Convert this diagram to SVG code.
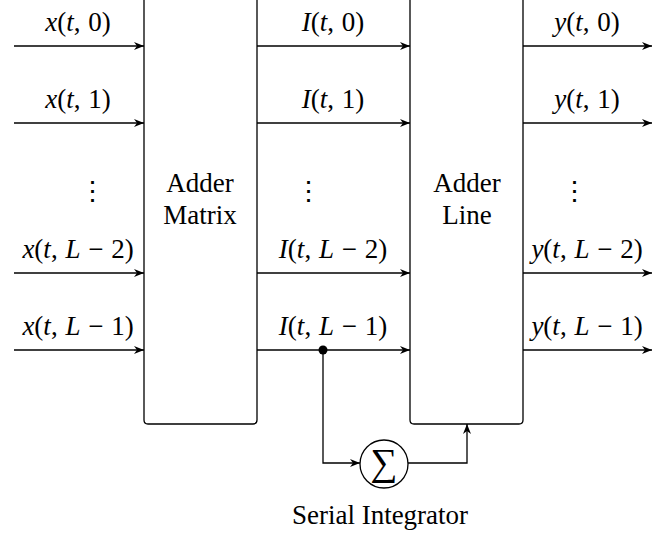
<svg xmlns="http://www.w3.org/2000/svg" width="671" height="535" viewBox="0 0 671 535">
<style>
.ln{fill:none;stroke:#000;stroke-width:1.3}
.bx{fill:#fff;stroke:#000;stroke-width:1.3}
text{font-family:'Liberation Serif','Times New Roman',serif;font-size:27px;fill:#000;text-anchor:middle}
.m{word-spacing:1px}
.i{font-style:italic}
</style>
<defs>
<marker id="ar" markerWidth="12" markerHeight="10" refX="10" refY="5" orient="auto" markerUnits="userSpaceOnUse">
<path d="M0,1 L10,5 L0,9 L3,5 Z" fill="#000"/>
</marker>
</defs>
<g id="adder-matrix">
<path class="bx" d="M144,-5 L144,420 Q144,424 148,424 L253,424 Q257,424 257,420 L257,-5"/>
<text x="200" y="192">Adder</text>
<text x="200" y="224">Matrix</text>
</g>
<g id="adder-line">
<path class="bx" d="M410,-5 L410,420 Q410,424 414,424 L519,424 Q523,424 523,420 L523,-5"/>
<text x="467" y="192">Adder</text>
<text x="467" y="224">Line</text>
</g>
<g id="serial-integrator">
<circle class="ln" cx="384" cy="464" r="24"/>
<text x="384" y="475" style="font-size:38px">∑</text>
<text x="380" y="524">Serial Integrator</text>
</g>
<g id="connectors">
<path class="ln" marker-end="url(#ar)" d="M14,46 H144"/>
<path class="ln" marker-end="url(#ar)" d="M14,123 H144"/>
<path class="ln" marker-end="url(#ar)" d="M14,273 H144"/>
<path class="ln" marker-end="url(#ar)" d="M14,350 H144"/>
<path class="ln" marker-end="url(#ar)" d="M257,46 H410"/>
<path class="ln" marker-end="url(#ar)" d="M257,123 H410"/>
<path class="ln" marker-end="url(#ar)" d="M257,273 H410"/>
<path class="ln" marker-end="url(#ar)" d="M257,350 H410"/>
<path class="ln" marker-end="url(#ar)" d="M523,46 H652"/>
<path class="ln" marker-end="url(#ar)" d="M523,123 H652"/>
<path class="ln" marker-end="url(#ar)" d="M523,273 H652"/>
<path class="ln" marker-end="url(#ar)" d="M523,350 H652"/>
<circle cx="323" cy="350" r="4.5" fill="#000"/>
<path class="ln" marker-end="url(#ar)" d="M323,350 V463 H360"/>
<path class="ln" marker-end="url(#ar)" d="M408,463 H467 V424"/>
</g>
<g id="labels">
<text class="m" x="78" y="31"><tspan class="i">x</tspan>(<tspan class="i">t</tspan>, 0)</text>
<text class="m" x="78" y="108"><tspan class="i">x</tspan>(<tspan class="i">t</tspan>, 1)</text>
<text class="m" x="78" y="258"><tspan class="i">x</tspan>(<tspan class="i">t</tspan>, <tspan class="i">L</tspan> − 2)</text>
<text class="m" x="78" y="335"><tspan class="i">x</tspan>(<tspan class="i">t</tspan>, <tspan class="i">L</tspan> − 1)</text>
<text class="m" x="333" y="31"><tspan class="i">I</tspan>(<tspan class="i">t</tspan>, 0)</text>
<text class="m" x="333" y="108"><tspan class="i">I</tspan>(<tspan class="i">t</tspan>, 1)</text>
<text class="m" x="333" y="258"><tspan class="i">I</tspan>(<tspan class="i">t</tspan>, <tspan class="i">L</tspan> − 2)</text>
<text class="m" x="333" y="335"><tspan class="i">I</tspan>(<tspan class="i">t</tspan>, <tspan class="i">L</tspan> − 1)</text>
<text class="m" x="587" y="31"><tspan class="i">y</tspan>(<tspan class="i">t</tspan>, 0)</text>
<text class="m" x="587" y="108"><tspan class="i">y</tspan>(<tspan class="i">t</tspan>, 1)</text>
<text class="m" x="587" y="258"><tspan class="i">y</tspan>(<tspan class="i">t</tspan>, <tspan class="i">L</tspan> − 2)</text>
<text class="m" x="587" y="335"><tspan class="i">y</tspan>(<tspan class="i">t</tspan>, <tspan class="i">L</tspan> − 1)</text>
<text x="92" y="200">⋮</text>
<text x="308" y="200">⋮</text>
<text x="574" y="200">⋮</text>
</g>
</svg>
